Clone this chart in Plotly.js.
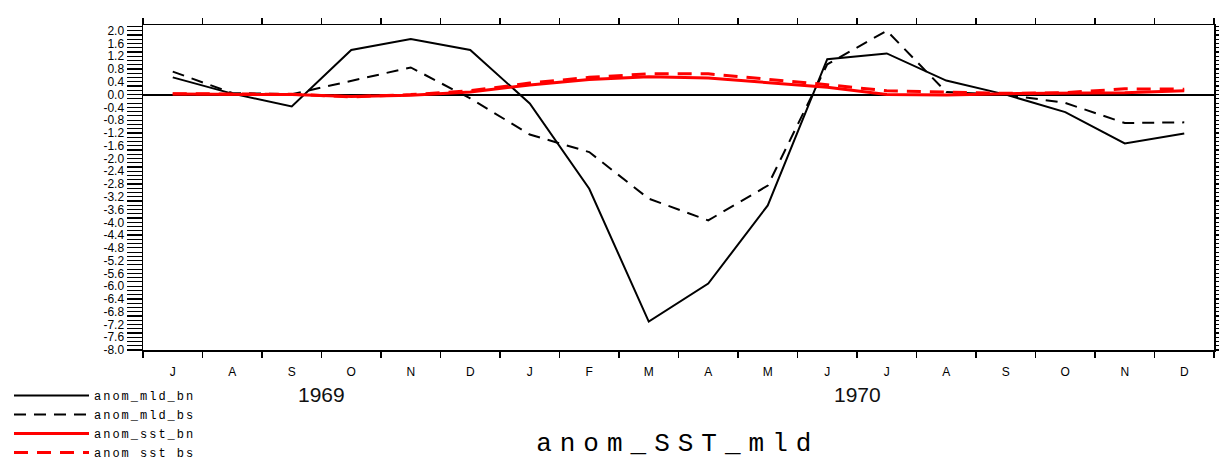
<!DOCTYPE html>
<html>
<head>
<meta charset="utf-8">
<script src="https://cdn.plot.ly/plotly-3.0.1.min.js"></script>
<style>
  html, body { margin: 0; padding: 0; background: #fff; }
  #chart { width: 1219px; height: 457px; }
  .gtitle { letter-spacing: 8px; }
  .legendtext { letter-spacing: 2px; }
</style>
</head>
<body>
<div id="chart"></div>
<script>
// Month labels (Jul 1969 .. Dec 1970)
const months = ['J','A','S','O','N','D','J','F','M','A','M','J','J','A','S','O','N','D'];
const years = ['1969', '1970'];
const yearStartIndex = [3, 12];

// Series values
const anom_mld_bn = [0.54, 0.03, -0.37, 1.40, 1.74, 1.40, -0.28, -2.95, -7.11, -5.92, -3.47, 1.11, 1.29, 0.44, 0.00, -0.55, -1.53, -1.22];
const anom_mld_bs = [0.72, 0.05, 0.01, 0.44, 0.85, -0.12, -1.25, -1.80, -3.26, -3.94, -2.85, 0.95, 2.00, 0.08, 0.00, -0.26, -0.89, -0.87];
const anom_sst_bn = [0.02, 0.00, 0.00, -0.06, -0.02, 0.08, 0.30, 0.47, 0.56, 0.52, 0.38, 0.23, 0.00, -0.01, 0.03, 0.04, 0.06, 0.12];
const anom_sst_bs = [0.03, 0.01, 0.01, -0.07, 0.00, 0.12, 0.36, 0.54, 0.65, 0.65, 0.49, 0.31, 0.12, 0.09, 0.04, 0.06, 0.18, 0.17];

// Y tick labels
const yTickVals = [2.0, 1.6, 1.2, 0.8, 0.4, 0.0, -0.4, -0.8, -1.2, -1.6, -2.0, -2.4, -2.8, -3.2, -3.6, -4.0, -4.4, -4.8, -5.2, -5.6, -6.0, -6.4, -6.8, -7.2, -7.6, -8.0];
const yTickText = ['2.0','1.6','1.2','0.8','0.4','0.0','-0.4','-0.8','-1.2','-1.6','-2.0','-2.4','-2.8','-3.2','-3.6','-4.0','-4.4','-4.8','-5.2','-5.6','-6.0','-6.4','-6.8','-7.2','-7.6','-8.0'];

const xs = months.map((_, i) => i + 0.5);

const traces = [
  {x: xs, y: anom_mld_bn, name: 'anom_mld_bn', mode: 'lines', line: {color: '#000', width: 2}},
  {x: xs, y: anom_mld_bs, name: 'anom_mld_bs', mode: 'lines', line: {color: '#000', width: 2, dash: '12px,8px'}},
  {x: xs, y: anom_sst_bn, name: 'anom_sst_bn', mode: 'lines', line: {color: '#ff0000', width: 3}},
  {x: xs, y: anom_sst_bs, name: 'anom_sst_bs', mode: 'lines', line: {color: '#ff0000', width: 3, dash: '14px,9px'}}
];

const tickFont = {family: 'Liberation Sans, Arial, sans-serif', size: 12, color: '#000'};

const longTicks = [];
[0, 6, 18].forEach(v => {
  longTicks.push({type: 'line', xref: 'x', yref: 'y', ysizemode: 'pixel', yanchor: -8,
    x0: v, x1: v, y0: 0, y1: -10, line: {color: '#000', width: 1.5}});
  longTicks.push({type: 'line', xref: 'x', yref: 'y', ysizemode: 'pixel', yanchor: 2.18,
    x0: v, x1: v, y0: 0, y1: 14, line: {color: '#000', width: 1.5}});
});

const layout = {
  width: 1219, height: 457,
  margin: {l: 143, r: 5, t: 25, b: 107, autoexpand: false},
  paper_bgcolor: '#fff', plot_bgcolor: '#fff',
  showlegend: true,
  title: {
    text: 'anom_SST_mld',
    font: {family: 'Liberation Mono, Courier New, monospace', size: 26, color: '#000'},
    xref: 'container', yref: 'container', x: 0.556, y: 0.034, xanchor: 'center', yanchor: 'middle'
  },
  xaxis: {
    range: [0, 18], showgrid: false, zeroline: false, automargin: false,
    showline: true, linecolor: '#000', linewidth: 1.5, mirror: 'allticks',
    tickvals: xs, ticktext: months, ticks: '', ticklabelstandoff: 10,
    tickfont: tickFont,
    minor: {tick0: 0, dtick: 1, ticks: 'outside', ticklen: 6, tickcolor: '#000', tickwidth: 1.5, showgrid: false}
  },
  yaxis: {
    range: [-8.0, 2.18], showgrid: false, automargin: false,
    zeroline: true, zerolinecolor: '#000', zerolinewidth: 2,
    showline: true, linecolor: '#000', linewidth: 1.5, mirror: 'allticks',
    tickvals: yTickVals, ticktext: yTickText,
    ticks: 'outside', ticklen: 15, tickwidth: 1.2, tickcolor: '#000',
    tickfont: tickFont,
    minor: {tick0: -8, dtick: 0.4/3, ticks: 'outside', ticklen: 15, tickwidth: 1.2, tickcolor: '#000', showgrid: false}
  },
  legend: {
    xref: 'container', yref: 'container', x: 9/1219, y: 1 - 381/457, xanchor: 'left', yanchor: 'top',
    itemwidth: 75, font: {family: 'Liberation Mono, monospace', size: 12, color: '#000'},
    bgcolor: 'rgba(0,0,0,0)', tracegroupgap: 0
  },
  annotations: years.map((yr, i) => ({
    text: yr, x: yearStartIndex[i], xref: 'x', y: 0, yref: 'paper', yshift: -44,
    xanchor: 'center', yanchor: 'middle', showarrow: false,
    font: {family: 'Liberation Sans, Arial, sans-serif', size: 21, color: '#111'}
  })),
  shapes: longTicks
};

Plotly.newPlot('chart', traces, layout, {displayModeBar: false, staticPlot: true});
</script>
</body>
</html>
